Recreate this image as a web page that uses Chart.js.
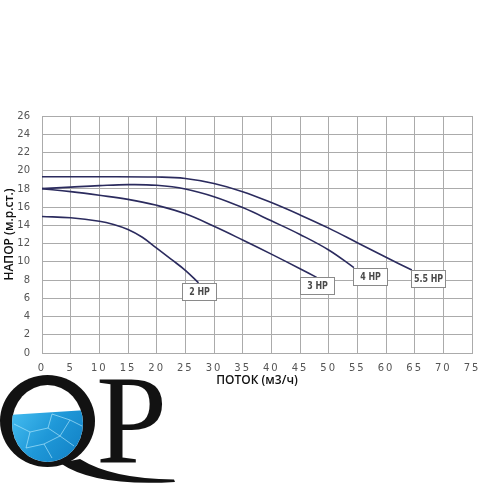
<!DOCTYPE html>
<html>
<head>
<meta charset="utf-8">
<script src="https://cdn.jsdelivr.net/npm/chart.js@4.4.0/dist/chart.umd.min.js"></script>
<style>
  html, body { margin: 0; padding: 0; background: #fff; }
  #chart { display: block; }
</style>
</head>
<body>
<canvas id="chart" width="489" height="488"></canvas>
<script>
// Кривые насосов: поток (м3/ч) и напор (м.р.ст.)
const flow2 = [0, 5, 10, 12.5, 15, 17.5, 20, 22.5, 25, 27.3];
const head2 = [14.97, 14.83, 14.46, 14.1, 13.55, 12.7, 11.5, 10.3, 9.07, 7.7];

const flow3 = [0, 5, 10, 15, 20, 25, 30, 35, 40, 45, 47.9];
const head3 = [18.03, 17.7, 17.3, 16.85, 16.2, 15.27, 13.9, 12.4, 10.85, 9.25, 8.3];

const flow4 = [0, 5, 10, 15, 20, 25, 30, 35, 40, 45, 50, 54.4];
const head4 = [18.03, 18.2, 18.36, 18.47, 18.4, 18.0, 17.15, 15.95, 14.5, 13.0, 11.3, 9.37];

const flow55 = [0, 10, 20, 25, 30, 35, 40, 45, 50, 55, 60, 64.5];
const head55 = [19.34, 19.34, 19.3, 19.15, 18.6, 17.7, 16.5, 15.15, 13.7, 12.1, 10.5, 9.1];

const seriesNames = ['2 HP', '3 HP', '4 HP', '5.5 HP'];
const xTicks = { min: 0, max: 75, step: 5 };
const yTicks = { min: 0, max: 26, step: 2 };

function toPoints(xs, ys) {
  return xs.map((v, i) => ({ x: v, y: ys[i] }));
}

const lineColor = '#2b2b5e';
const gridColor = '#ababab';

// Подписи мощности в рамках у конца каждой кривой
const boxLabels = {
  id: 'boxLabels',
  afterDatasetsDraw(chart) {
    const ctx = chart.ctx;
    const xs = chart.scales.x, ys = chart.scales.y;
    chart.data.datasets.forEach(ds => {
      const last = ds.data[ds.data.length - 1];
      const px = xs.getPixelForValue(last.x);
      const py = ys.getPixelForValue(last.y);
      const w = 34, h = 17;
      const left = Math.round(ds.labelAlign === 'left' ? px - 1 : px - w / 2);
      const top = Math.round(py);
      ctx.save();
      ctx.fillStyle = '#fff';
      ctx.fillRect(left, top, w, h);
      ctx.strokeStyle = '#8a8a8a';
      ctx.lineWidth = 1;
      ctx.strokeRect(left + 0.5, top + 0.5, w, h);
      // узкий шрифт: сжимаем по горизонтали
      ctx.translate(left + w / 2 + 0.5, top + h / 2 + 1);
      ctx.scale(0.72, 1);
      ctx.fillStyle = '#4a4a4a';
      ctx.font = 'bold 11px "DejaVu Sans", sans-serif';
      ctx.textAlign = 'center';
      ctx.textBaseline = 'middle';
      ctx.fillText(ds.label, 0, 0);
      ctx.restore();
    });
  }
};

// Разрядка цифр на оси X
const spacedTicks = {
  id: 'spacedTicks',
  afterLayout(chart) {
    const s = chart.scales.x;
    if (s._spaced) return;
    const orig = s.drawLabels.bind(s);
    s.drawLabels = function (area) {
      this.ctx.save();
      this.ctx.letterSpacing = '2px';
      orig(area);
      this.ctx.restore();
    };
    s._spaced = true;
  }
};

// Логотип QP внизу слева
const logo = {
  id: 'logo',
  afterDraw(chart) {
    const ctx = chart.ctx;
    ctx.save();
    // кольцо Q
    ctx.fillStyle = '#121212';
    ctx.beginPath();
    ctx.ellipse(47.5, 421, 47.5, 46, 0, 0, Math.PI * 2);
    ctx.fill();
    ctx.fillStyle = '#fff';
    ctx.beginPath();
    ctx.ellipse(47.5, 423.5, 35.5, 38.5, 0, 0, Math.PI * 2);
    ctx.fill();
    // вода внутри Q
    ctx.save();
    ctx.beginPath();
    ctx.ellipse(47.5, 423.5, 35.5, 38.5, 0, 0, Math.PI * 2);
    ctx.clip();
    const g = ctx.createLinearGradient(12, 410, 80, 462);
    g.addColorStop(0, '#45bdf0');
    g.addColorStop(0.5, '#1f98d8');
    g.addColorStop(1, '#1180c4');
    ctx.fillStyle = g;
    ctx.beginPath();
    ctx.moveTo(10, 415);
    ctx.lineTo(85, 410);
    ctx.lineTo(85, 465);
    ctx.lineTo(10, 465);
    ctx.closePath();
    ctx.fill();
    ctx.strokeStyle = 'rgba(190,238,255,0.6)';
    ctx.lineWidth = 1;
    const caustics = [[14, 424, 30, 432, 26, 448], [30, 432, 48, 428, 60, 436], [48, 428, 52, 414, 70, 420], [26, 448, 44, 444, 52, 458], [44, 444, 60, 436, 74, 446], [60, 436, 70, 420, 82, 426]];
    caustics.forEach(c => {
      ctx.beginPath();
      ctx.moveTo(c[0], c[1]);
      ctx.lineTo(c[2], c[3]);
      ctx.lineTo(c[4], c[5]);
      ctx.stroke();
    });
    ctx.restore();
    // хвост Q
    ctx.fillStyle = '#121212';
    ctx.beginPath();
    ctx.moveTo(60, 463);
    ctx.quadraticCurveTo(95, 487, 175, 482);
    ctx.lineTo(174, 479.5);
    ctx.quadraticCurveTo(112, 479, 80, 459);
    ctx.closePath();
    ctx.fill();
    // P
    ctx.font = '128px "Liberation Serif", "DejaVu Serif", serif';
    ctx.textBaseline = 'alphabetic';
    ctx.fillText('P', 96, 463);
    ctx.restore();
  }
};

const datasets = [
  { label: seriesNames[0], data: toPoints(flow2, head2), labelAlign: 'center' },
  { label: seriesNames[1], data: toPoints(flow3, head3), labelAlign: 'center' },
  { label: seriesNames[2], data: toPoints(flow4, head4), labelAlign: 'left' },
  { label: seriesNames[3], data: toPoints(flow55, head55), labelAlign: 'left' }
].map(d => Object.assign(d, {
  showLine: true,
  borderColor: lineColor,
  borderWidth: 1.6,
  pointRadius: 0,
  tension: 0.4,
  fill: false
}));

new Chart(document.getElementById('chart').getContext('2d'), {
  type: 'scatter',
  data: { datasets: datasets },
  options: {
    responsive: false,
    animation: false,
    layout: { padding: { top: 116, right: 17, bottom: 100, left: 0 } },
    plugins: {
      legend: { display: false },
      tooltip: { enabled: false }
    },
    scales: {
      x: {
        type: 'linear',
        min: xTicks.min,
        max: xTicks.max,
        ticks: {
          stepSize: xTicks.step,
          color: '#555',
          font: { family: '"DejaVu Sans"', size: 10 },
          padding: 9
        },
        grid: { color: gridColor, drawTicks: false },
        border: { color: gridColor },
        title: {
          display: true,
          text: 'ПОТОК (м3/ч)',
          color: '#111',
          font: { family: '"Open Sans"', size: 12, weight: '600' },
          padding: { top: 0, bottom: 0 }
        },
        afterFit(scale) { scale.height = 35; }
      },
      y: {
        type: 'linear',
        min: yTicks.min,
        max: yTicks.max,
        ticks: {
          stepSize: yTicks.step,
          color: '#555',
          font: { family: '"DejaVu Sans"', size: 10 },
          padding: 12
        },
        grid: { color: gridColor, drawTicks: false },
        border: { color: gridColor },
        title: {
          display: true,
          text: 'НАПОР (м.р.ст.)',
          color: '#111',
          font: { family: '"Open Sans"', size: 12, weight: '600' },
          padding: { top: 2, bottom: 0 }
        },
        afterFit(scale) { scale.width = 42; }
      }
    }
  },
  plugins: [spacedTicks, boxLabels, logo]
});
</script>
</body>
</html>
